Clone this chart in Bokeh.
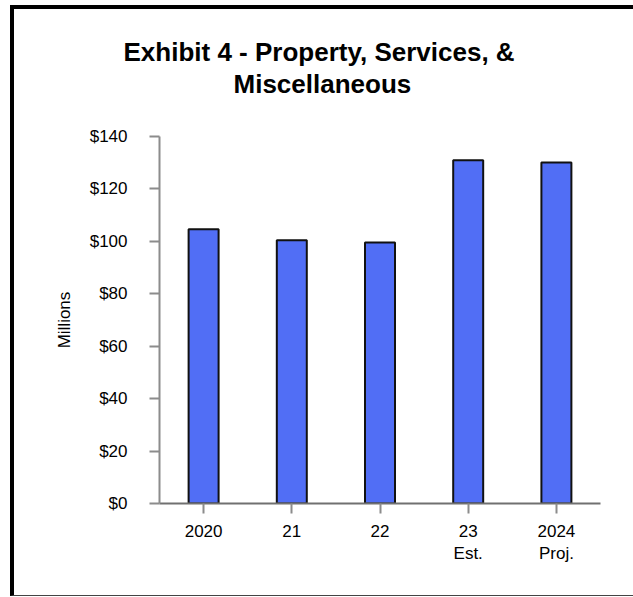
from bokeh.plotting import figure
from bokeh.models import FactorRange, Range1d, FixedTicker, PrintfTickFormatter, Title, ColumnDataSource
from bokeh.embed import file_html
from bokeh.resources import INLINE

# ---- data ----
categories = ["2020", "21", "22", "23\nEst.", "2024\nProj."]
values = [104.6, 100.4, 99.6, 130.9, 130.1]
y_ticks = [0, 20, 40, 60, 80, 100, 120, 140]
title_line1 = "Exhibit 4 - Property, Services, &"
title_line2 = "Miscellaneous"
y_label = "Millions"

FONT = "Liberation Sans"

source = ColumnDataSource(data=dict(cat=categories, val=values))

p = figure(
    x_range=FactorRange(*categories),
    y_range=Range1d(0, 140),
    width=623, height=591,
    output_backend="svg", toolbar_location=None,
    min_border_left=145, min_border_right=37,
    min_border_top=127, min_border_bottom=97,
)
p.styles = {"margin-left": "10px", "margin-top": "5px",
            "border-left": "4px solid black", "border-top": "4px solid black",
            "border-bottom": "1px solid #444", "overflow": "hidden"}

p.vbar(x="cat", top="val", width=0.34, source=source,
       fill_color="#516ef5", line_color="#111111", line_width=2)

p.xgrid.visible = False
p.ygrid.visible = False
p.outline_line_color = None
p.background_fill_color = "white"
p.border_fill_color = "white"

# y axis
yax = p.yaxis[0]
yax.ticker = FixedTicker(ticks=y_ticks)
yax.formatter = PrintfTickFormatter(format="$%d")
yax.axis_line_color = "#8c8c8c"
yax.axis_line_width = 2
yax.major_tick_line_color = "#8c8c8c"
yax.major_tick_line_width = 2
yax.major_tick_out = 10
yax.major_tick_in = 0
yax.minor_tick_line_color = None
yax.major_label_standoff = 22
yax.major_label_text_font = FONT
yax.major_label_text_font_size = "17px"
yax.major_label_text_color = "black"
yax.axis_label = y_label
yax.axis_label_text_font = FONT
yax.axis_label_text_font_size = "17px"
yax.axis_label_text_font_style = "normal"
yax.axis_label_text_color = "black"
yax.axis_label_standoff = 13

# x axis
xax = p.xaxis[0]
xax.axis_line_color = "#707070"
xax.axis_line_width = 2
xax.major_tick_line_color = "#8c8c8c"
xax.major_tick_line_width = 2
xax.major_tick_out = 10
xax.major_tick_in = 0
xax.minor_tick_line_color = None
xax.major_label_standoff = 8
xax.major_label_text_font = FONT
xax.major_label_text_font_size = "17px"
xax.major_label_text_color = "black"
xax.major_label_text_line_height = 1.2

t2 = Title(text=title_line2, align="left", offset=74, standoff=76,
           text_font=FONT, text_font_size="26px", text_font_style="bold",
           text_color="black")
t1 = Title(text=title_line1, align="left", offset=-36, standoff=-77,
           text_font=FONT, text_font_size="26px", text_font_style="bold",
           text_color="black")
p.add_layout(t2, "above")
p.add_layout(t1, "above")

open("out.html", "w").write(file_html(p, INLINE))
